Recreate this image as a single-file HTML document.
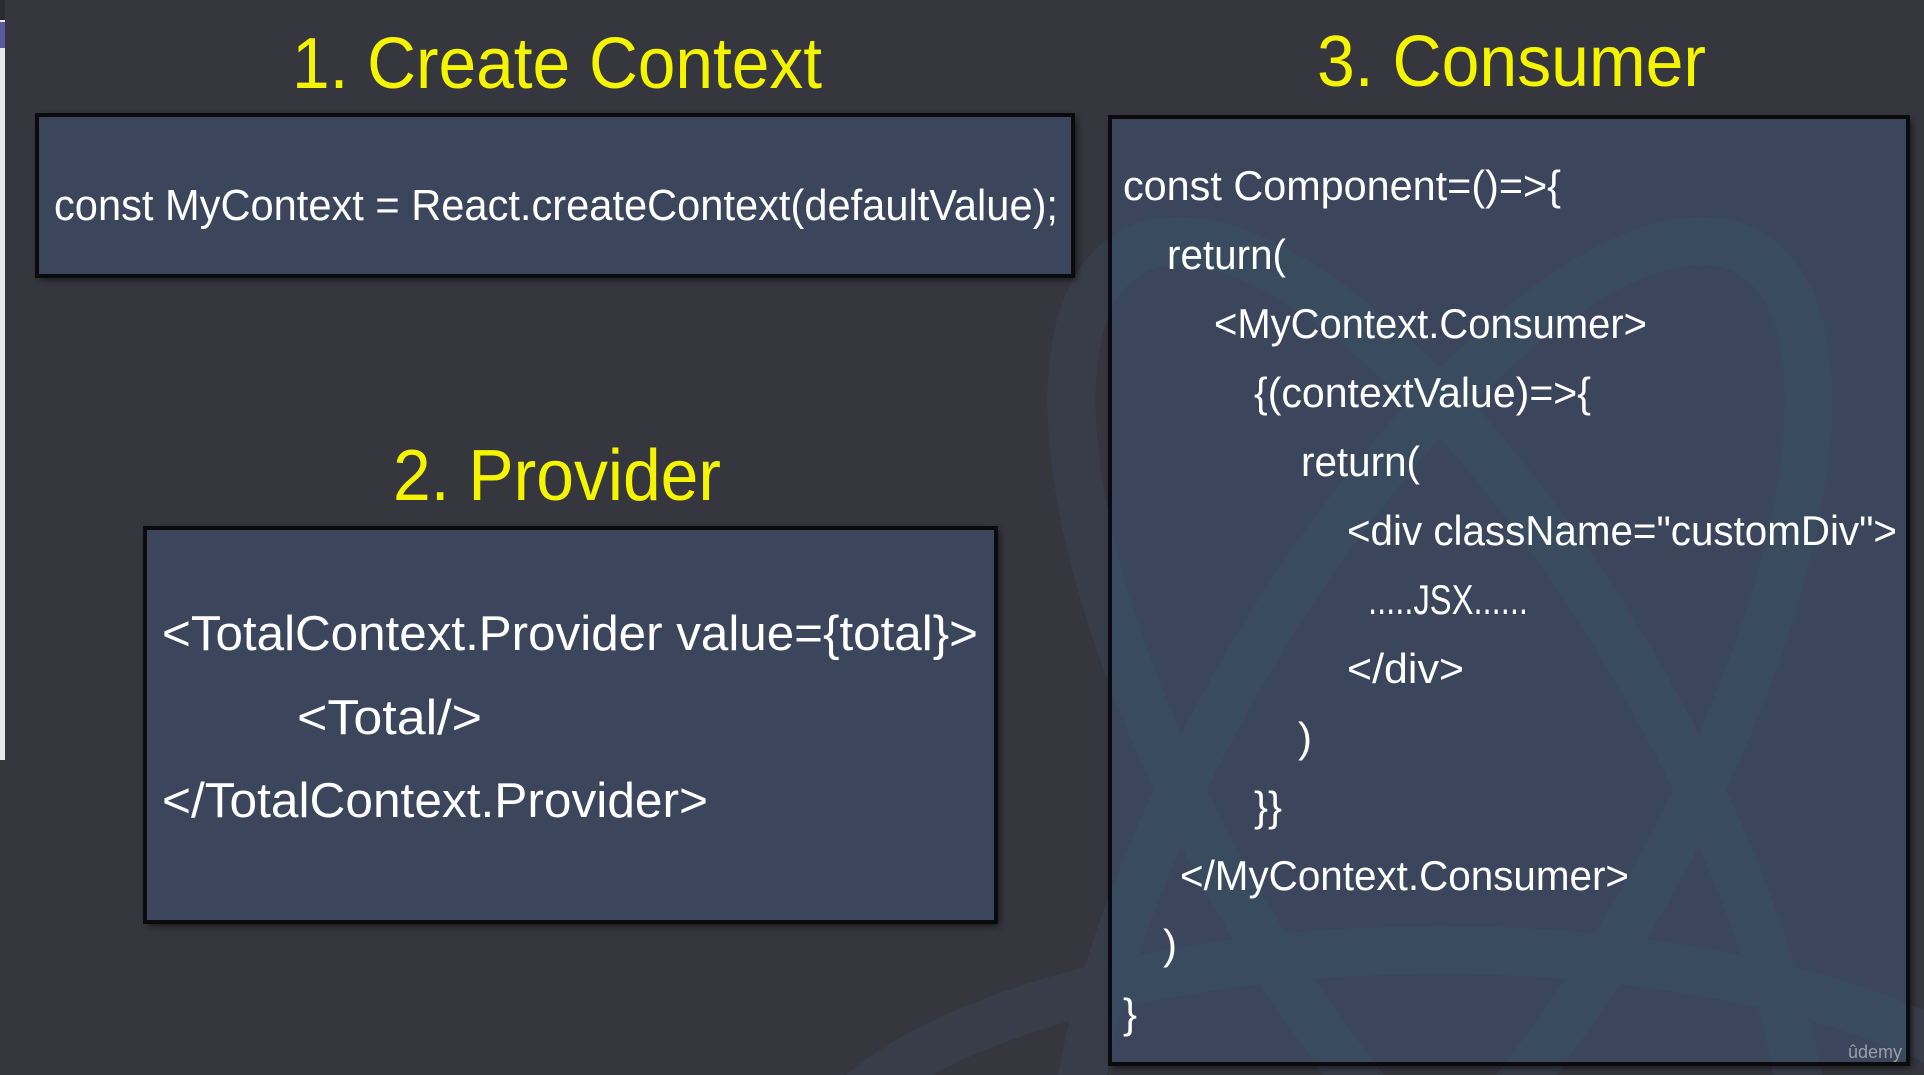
<!DOCTYPE html>
<html><head><meta charset="utf-8"><style>
html,body{margin:0;padding:0;background:#36363f;overflow:hidden;width:1924px;height:1075px}
svg{display:block}
text{font-family:"Liberation Sans",sans-serif}
</style></head><body>
<svg width="1924" height="1075" viewBox="0 0 1924 1075" xmlns="http://www.w3.org/2000/svg">
<defs>
<filter id="sh" x="-5%" y="-5%" width="110%" height="110%"><feGaussianBlur stdDeviation="4"/></filter>
<clipPath id="c3"><rect x="1110" y="117" width="798" height="947"/></clipPath>
<clipPath id="all"><rect x="0" y="0" width="1924" height="1075"/></clipPath>
</defs>
<rect width="1924" height="1075" fill="#36363f"/>
<rect x="0" y="0" width="5" height="760" fill="#e8e8ec"/>
<rect x="0" y="0" width="5" height="20" fill="#2a2a30"/>
<rect x="0" y="22" width="5" height="26" fill="#5a5aa0"/>
<g clip-path="url(#all)" fill="none" stroke="#393d4a" stroke-width="48">
<ellipse cx="1440" cy="790" rx="620" ry="230" transform="rotate(60 1440 790)"/>
<ellipse cx="1440" cy="790" rx="620" ry="230" transform="rotate(-60 1440 790)"/>
<ellipse cx="1440" cy="1200" rx="640" ry="250"/>
</g>
<rect x="40" y="118" width="1036" height="161" fill="#000" opacity=".7" filter="url(#sh)"/>
<rect x="37" y="115" width="1036" height="161" fill="#3b465c" stroke="#0b0b0e" stroke-width="4"/>
<rect x="148" y="531" width="851" height="394" fill="#000" opacity=".7" filter="url(#sh)"/>
<rect x="145" y="528" width="851" height="394" fill="#3b465c" stroke="#0b0b0e" stroke-width="4"/>
<rect x="1113" y="120" width="798" height="947" fill="#000" opacity=".7" filter="url(#sh)"/>
<rect x="1110" y="117" width="798" height="947" fill="#3b465c" stroke="#0b0b0e" stroke-width="4"/>
<g clip-path="url(#c3)" fill="none" stroke="#394b5f" stroke-width="48">
<ellipse cx="1440" cy="790" rx="620" ry="230" transform="rotate(60 1440 790)"/>
<ellipse cx="1440" cy="790" rx="620" ry="230" transform="rotate(-60 1440 790)"/>
<ellipse cx="1440" cy="1200" rx="640" ry="250"/>
</g>
<rect x="1110" y="117" width="798" height="947" fill="none" stroke="#0b0b0e" stroke-width="4"/>
<g fill="#f5f500" font-size="72">
<text x="292" y="88" textLength="530" lengthAdjust="spacingAndGlyphs">1. Create Context</text>
<text x="393" y="500" textLength="328" lengthAdjust="spacingAndGlyphs">2. Provider</text>
<text x="1317" y="86" textLength="389" lengthAdjust="spacingAndGlyphs">3. Consumer</text>
</g>
<g fill="#fff">
<text x="54" y="220" font-size="44" textLength="1004" lengthAdjust="spacingAndGlyphs">const MyContext = React.createContext(defaultValue);</text>
<g font-size="49">
<text x="162" y="650" textLength="816" lengthAdjust="spacingAndGlyphs">&lt;TotalContext.Provider value={total}&gt;</text>
<text x="297" y="734" textLength="185" lengthAdjust="spacingAndGlyphs">&lt;Total/&gt;</text>
<text x="162" y="817" textLength="546" lengthAdjust="spacingAndGlyphs">&lt;/TotalContext.Provider&gt;</text>
</g>
<g font-size="42">
<text x="1123" y="200" textLength="438" lengthAdjust="spacingAndGlyphs">const Component=()=&gt;{</text>
<text x="1167" y="269" textLength="119" lengthAdjust="spacingAndGlyphs">return(</text>
<text x="1214" y="338" textLength="433" lengthAdjust="spacingAndGlyphs">&lt;MyContext.Consumer&gt;</text>
<text x="1254" y="407" textLength="337" lengthAdjust="spacingAndGlyphs">{(contextValue)=&gt;{</text>
<text x="1301" y="476" textLength="119" lengthAdjust="spacingAndGlyphs">return(</text>
<text x="1347" y="545" textLength="550" lengthAdjust="spacingAndGlyphs">&lt;div className="customDiv"&gt;</text>
<text x="1368" y="614" textLength="160" lengthAdjust="spacingAndGlyphs">.....JSX......</text>
<text x="1347" y="683" textLength="117" lengthAdjust="spacingAndGlyphs">&lt;/div&gt;</text>
<text x="1298" y="752">)</text>
<text x="1254" y="821">}}</text>
<text x="1180" y="890" textLength="449" lengthAdjust="spacingAndGlyphs">&lt;/MyContext.Consumer&gt;</text>
<text x="1163" y="959">)</text>
<text x="1123" y="1028">}</text>
</g>
</g>
<text x="1848" y="1058" font-size="18" fill="#9aa0aa">ûdemy</text>
</svg>
</body></html>
